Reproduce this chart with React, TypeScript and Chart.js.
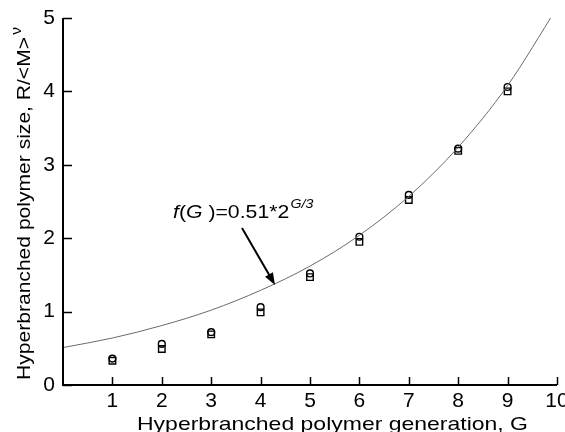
import React, { useEffect, useRef } from "react";
import { Chart, registerables } from "chart.js";

Chart.register(...registerables);

const generations = [1, 2, 3, 4, 5, 6, 7, 8, 9];
const circleValues = [0.36, 0.56, 0.72, 1.06, 1.52, 2.02, 2.59, 3.22, 4.06];
const squareValues = [0.33, 0.49, 0.69, 0.99, 1.47, 1.95, 2.52, 3.19, 4.0];
const fitG = [0, 1, 2, 3, 4, 5, 6, 7, 8, 9, 10];
const fitValues = [0.51, 0.64, 0.81, 1.02, 1.29, 1.62, 2.04, 2.57, 3.24, 4.08, 5.14];
const xTicks = [1, 2, 3, 4, 5, 6, 7, 8, 9, 10];
const yTicks = [0, 1, 2, 3, 4, 5];

const FONT = '"Liberation Sans", Arial, sans-serif';
const STRETCH = 1.18;

const decorPlugin = {
  id: "decor",
  afterDraw(chart: any) {
    const ctx = chart.ctx;
    const xs = chart.scales.x;
    const ys = chart.scales.y;
    const area = chart.chartArea;
    ctx.save();
    ctx.strokeStyle = "#000";
    ctx.fillStyle = "#000";
    // axes
    ctx.lineWidth = 2;
    ctx.beginPath();
    ctx.moveTo(area.left, area.top);
    ctx.lineTo(area.left, area.bottom);
    ctx.lineTo(area.right, area.bottom);
    ctx.stroke();
    // ticks inside
    ctx.lineWidth = 1.5;
    ctx.beginPath();
    for (const t of xTicks) {
      const px = Math.round(xs.getPixelForValue(t)) + 0.5;
      ctx.moveTo(px, area.bottom);
      ctx.lineTo(px, area.bottom - 8);
    }
    for (const t of yTicks) {
      const py = Math.round(ys.getPixelForValue(t)) + 0.5;
      ctx.moveTo(area.left, py);
      ctx.lineTo(area.left + 9, py);
    }
    ctx.stroke();
    // tick labels
    ctx.font = `21px ${FONT}`;
    ctx.textAlign = "center";
    ctx.textBaseline = "middle";
    for (const t of xTicks) {
      ctx.fillText(String(t), xs.getPixelForValue(t), area.bottom + 16);
    }
    ctx.textAlign = "right";
    for (const t of yTicks) {
      ctx.fillText(String(t), area.left - 8, ys.getPixelForValue(t));
    }
    // x title
    ctx.textBaseline = "alphabetic";
    {
      const txt = "Hyperbranched polymer generation, G";
      ctx.font = `19px ${FONT}`;
      const w = ctx.measureText(txt).width;
      const sx = 391 / w;
      ctx.save();
      ctx.translate(137, 430);
      ctx.scale(sx, 1);
      ctx.textAlign = "left";
      ctx.fillText(txt, 0, 0);
      ctx.restore();
    }
    // y title
    {
      const main = "Hyperbranched polymer size, R/<M>";
      ctx.font = `19px ${FONT}`;
      const w1 = ctx.measureText(main).width;
      ctx.font = `14px ${FONT}`;
      const w2 = ctx.measureText("ν").width;
      const sx = 353 / (w1 + w2 + 2);
      ctx.save();
      ctx.translate(30, 380);
      ctx.rotate(-Math.PI / 2);
      ctx.scale(sx, 1);
      ctx.textAlign = "left";
      ctx.font = `19px ${FONT}`;
      ctx.fillText(main, 0, 0);
      ctx.font = `14px ${FONT}`;
      ctx.fillText("ν", w1 + 2, -9);
      ctx.restore();
    }
    // annotation
    {
      ctx.save();
      ctx.translate(173, 218);
      ctx.scale(STRETCH, 1);
      ctx.textAlign = "left";
      let x = 0;
      const parts: [string, string][] = [
        ["f", `italic 18px ${FONT}`],
        ["(", `18px ${FONT}`],
        ["G", `italic 18px ${FONT}`],
        [" )=0.51*2", `18px ${FONT}`],
      ];
      for (const [txt, f] of parts) {
        ctx.font = f;
        ctx.fillText(txt, x, 0);
        x += ctx.measureText(txt).width;
      }
      ctx.font = `italic 12px ${FONT}`;
      ctx.fillText("G/3", x + 1, -10);
      ctx.restore();
    }
    // arrow
    const x0 = 242, y0 = 228, x1 = 275, y1 = 285;
    ctx.lineWidth = 2;
    ctx.beginPath();
    ctx.moveTo(x0, y0);
    const ang = Math.atan2(y1 - y0, x1 - x0);
    ctx.lineTo(x1 - 8 * Math.cos(ang), y1 - 8 * Math.sin(ang));
    ctx.stroke();
    ctx.beginPath();
    ctx.moveTo(x1, y1);
    ctx.lineTo(x1 - 12 * Math.cos(ang) + 4.5 * Math.sin(ang), y1 - 12 * Math.sin(ang) - 4.5 * Math.cos(ang));
    ctx.lineTo(x1 - 12 * Math.cos(ang) - 4.5 * Math.sin(ang), y1 - 12 * Math.sin(ang) + 4.5 * Math.cos(ang));
    ctx.closePath();
    ctx.fill();
    ctx.restore();
  },
};

export default function App() {
  const ref = useRef<HTMLCanvasElement>(null);
  useEffect(() => {
    if (!ref.current) return;
    const chart = new Chart(ref.current, {
      type: "scatter",
      data: {
        datasets: [
          {
            type: "line",
            label: "fit",
            data: fitG.map((g, i) => ({ x: g, y: fitValues[i] })),
            borderColor: "#6a6a6a",
            borderWidth: 1,
            pointRadius: 0,
            cubicInterpolationMode: "monotone",
            fill: false,
          } as any,
          {
            label: "squares",
            data: generations.map((g, i) => ({ x: g, y: squareValues[i] })),
            pointStyle: "rect",
            pointRadius: 4.6,
            borderColor: "#000",
            backgroundColor: "rgba(255,255,255,0)",
            pointBorderWidth: 1.4,
          },
          {
            label: "circles",
            data: generations.map((g, i) => ({ x: g, y: circleValues[i] })),
            pointStyle: "circle",
            pointRadius: 3.4,
            borderColor: "#000",
            backgroundColor: "rgba(255,255,255,0)",
            pointBorderWidth: 1.4,
          },
        ],
      },
      options: {
        responsive: false,
        animation: false,
        layout: { padding: { left: 63, right: 8, top: 18, bottom: 47 } },
        plugins: { legend: { display: false }, tooltip: { enabled: false } },
        scales: {
          x: {
            type: "linear",
            min: 0,
            max: 10,
            grid: { display: false },
            border: { display: false },
            ticks: { display: false },
            afterFit: (s: any) => { s.height = 0; },
          },
          y: {
            type: "linear",
            min: 0,
            max: 5,
            grid: { display: false },
            border: { display: false },
            ticks: { display: false },
            afterFit: (s: any) => { s.width = 0; },
          },
        },
      },
      plugins: [decorPlugin],
    });
    return () => chart.destroy();
  }, []);
  return (
    <div style={{ position: "fixed", left: 0, top: 0, width: 565, height: 432, background: "#fff" }}>
      <canvas ref={ref} width={565} height={432} />
    </div>
  );
}
